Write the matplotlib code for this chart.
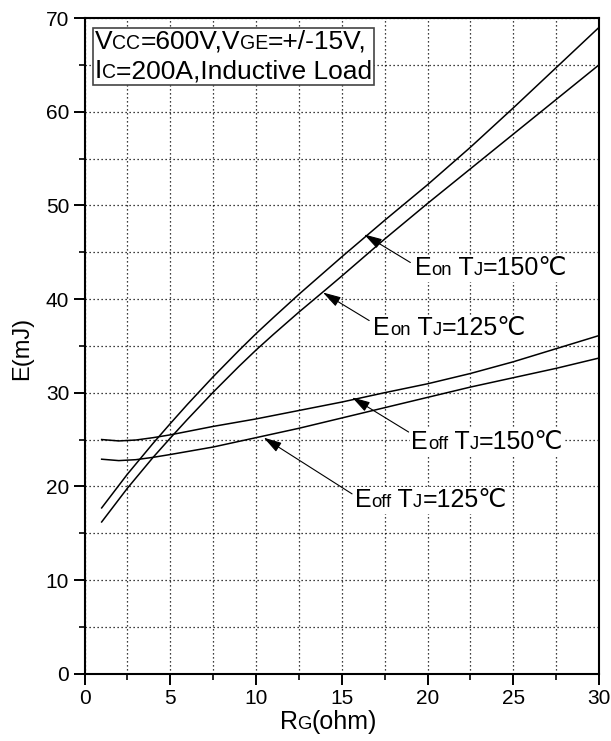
import matplotlib
matplotlib.use("Agg")
import matplotlib.pyplot as plt
from matplotlib.offsetbox import TextArea, HPacker, VPacker, AnnotationBbox
from matplotlib.patches import ArrowStyle
from matplotlib.ticker import MultipleLocator

FAM = ['Liberation Sans', 'DejaVu Sans']
plt.rcParams['font.family'] = FAM

# ---- data ----
rg_on = [1, 2.5, 4, 5, 6, 7.5, 9, 10, 11, 12.5, 14, 15, 17.5, 20, 22.5, 25, 27.5, 30]
eon_150 = [17.7, 21.3, 24.6, 26.7, 28.75, 31.7, 34.5, 36.3, 38.0, 40.5, 42.9, 44.5,
           48.4, 52.2, 56.2, 60.4, 64.7, 69.0]
eon_125 = [16.2, 19.8, 23.1, 25.15, 27.15, 30.05, 32.8, 34.55, 36.2, 38.6, 40.9, 42.45,
           46.4, 50.2, 53.9, 57.6, 61.3, 65.0]

rg_off = [1, 2, 3, 4, 5, 7.5, 10, 12.5, 15, 17.5, 20, 22.5, 25, 27.5, 30]
eoff_150 = [25.0, 24.85, 24.95, 25.2, 25.5, 26.4, 27.2, 28.1, 29.0, 30.0, 30.95, 32.05, 33.3, 34.7, 36.1]
eoff_125 = [22.9, 22.75, 22.85, 23.1, 23.4, 24.2, 25.2, 26.2, 27.3, 28.4, 29.5, 30.6, 31.6, 32.6, 33.7]

x_ticks = [0, 5, 10, 15, 20, 25, 30]
y_ticks = [0, 10, 20, 30, 40, 50, 60, 70]

# label parts: (text, small?)
lab_eon150 = [("E", False), ("on", True), (" T", False), ("J", True), ("=150\u2103", False)]
lab_eon125 = [("E", False), ("on", True), (" T", False), ("J", True), ("=125\u2103", False)]
lab_eoff150 = [("E", False), ("off", True), (" T", False), ("J", True), ("=150\u2103", False)]
lab_eoff125 = [("E", False), ("off", True), (" T", False), ("J", True), ("=125\u2103", False)]
box_line1 = [("V", False), ("CC", True), ("=600V,V", False), ("GE", True), ("=+/-15V,", False)]
box_line2 = [("I", False), ("C", True), ("=200A,Inductive Load", False)]

fig = plt.figure(figsize=(6.11, 7.41), dpi=100)
ax = fig.add_axes([0.1383, 0.0908, 0.9804 - 0.1383, 0.9757 - 0.0908])

lw_curve = 1.1
ax.plot(rg_on, eon_150, color='k', lw=lw_curve, zorder=3)
ax.plot(rg_on, eon_125, color='k', lw=lw_curve, zorder=3)
ax.plot(rg_off, eoff_150, color='k', lw=lw_curve, zorder=3)
ax.plot(rg_off, eoff_125, color='k', lw=lw_curve, zorder=3)

ax.set_xlim(0, 30)
ax.set_ylim(0, 70)
ax.set_xticks(x_ticks)
ax.set_yticks(y_ticks)
ax.xaxis.set_minor_locator(MultipleLocator(2.5))
ax.yaxis.set_minor_locator(MultipleLocator(5))
ax.tick_params(which='major', direction='out', length=8, width=1.4, labelsize=15, pad=3)
ax.tick_params(which='minor', direction='out', length=4, width=1.2)
ax.tick_params(top=False, right=False, which='both')
for s in ax.spines.values():
    s.set_linewidth(1.5)
    s.set_zorder(4)

grid_kw = dict(color='k', linestyle=(0, (1.0, 2.2)), linewidth=0.9)
for axis in (ax.xaxis, ax.yaxis):
    axis.grid(True, which='major', **grid_kw)
    axis.grid(True, which='minor', **grid_kw)


def rich(parts, size, ratio=0.74):
    areas = [TextArea(t, textprops=dict(fontsize=size * (ratio if sm else 1.0), family=FAM, color='k'))
             for t, sm in parts]
    return HPacker(children=areas, align="baseline", pad=0, sep=0)


# axis labels
xl = rich([("R", False), ("G", True), ("(ohm)", False)], 18)
ab = AnnotationBbox(xl, (0.474, -0.055), xycoords='axes fraction', box_alignment=(0.5, 1.0),
                    frameon=False, pad=0)
ax.add_artist(ab)
fig.text(0.037, 0.530, "E(mJ)", rotation=90, fontsize=17, ha='center', va='center')

# curve labels with arrows
def label(parts, xy_text, tip, tail):
    pk = rich(parts, 18)
    ab = AnnotationBbox(pk, xy_text, xycoords='data', box_alignment=(0.0, 0.5),
                        frameon=True, pad=0.1,
                        bboxprops=dict(facecolor='white', edgecolor='none'))
    ab.set_zorder(5)
    ax.add_artist(ab)
    ax.annotate("", xy=tip, xytext=tail, xycoords='data', textcoords='data',
                arrowprops=dict(arrowstyle=ArrowStyle('-|>', head_length=0.55, head_width=0.16),
                                color='k', lw=0.8, mutation_scale=20,
                                shrinkA=0, shrinkB=0), zorder=5)

label(lab_eon150, (19.25, 43.3), (16.3, 46.9), (19.0, 43.9))
label(lab_eon125, (16.85, 36.9), (13.9, 40.7), (16.6, 37.7))
label(lab_eoff150, (19.05, 24.7), (15.6, 29.5), (18.9, 25.8))
label(lab_eoff125, (15.75, 18.5), (10.45, 25.2), (15.6, 19.2))

# condition box
l1 = rich(box_line1, 19)
l2 = rich(box_line2, 19)
vp = VPacker(children=[l1, l2], align='left', pad=0, sep=4)
box = AnnotationBbox(vp, (0.6, 68.75), xycoords='data', box_alignment=(0.0, 1.0),
                     frameon=True, pad=0.1,
                     bboxprops=dict(facecolor='white', edgecolor='#444444', linewidth=1.2))
box.set_zorder(5)
ax.add_artist(box)

fig.savefig("out.png", dpi=100)
